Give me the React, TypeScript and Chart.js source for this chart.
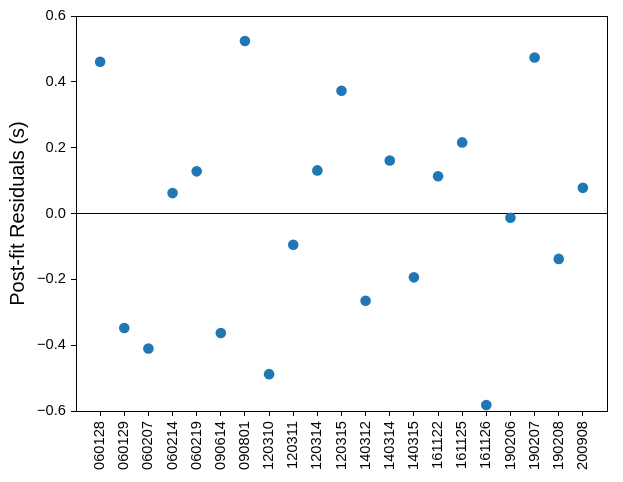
import React, { useEffect, useRef } from "react";
import { Chart, registerables } from "chart.js";

Chart.register(...registerables);

const categories = [
  "060128", "060129", "060207", "060214", "060219", "090614", "090801",
  "120310", "120311", "120314", "120315", "140312", "140314", "140315",
  "161122", "161125", "161126", "190206", "190207", "190208", "200908",
];

const residuals = [
  0.461, -0.348, -0.41, 0.062, 0.128, -0.363, 0.524,
  -0.488, -0.095, 0.131, 0.373, -0.265, 0.161, -0.194,
  0.113, 0.216, -0.582, -0.013, 0.474, -0.138, 0.078,
];

const yTicks = [-0.6, -0.4, -0.2, 0.0, 0.2, 0.4, 0.6];

const FONT = "'Liberation Sans', Arial, Helvetica, sans-serif";

const framePlugin = {
  id: "frame",
  afterDraw(chart: any) {
    const { ctx, chartArea } = chart;
    ctx.save();
    ctx.strokeStyle = "#000";
    ctx.lineWidth = 1;
    ctx.strokeRect(
      Math.round(chartArea.left) + 0.5,
      Math.round(chartArea.top) + 0.5,
      Math.round(chartArea.right - chartArea.left),
      Math.round(chartArea.bottom - chartArea.top)
    );
    ctx.restore();
  },
};

export default function App() {
  const ref = useRef<HTMLCanvasElement | null>(null);

  useEffect(() => {
    document.body.style.margin = "0";
    if (!ref.current) return;
    const chart = new Chart(ref.current, {
      type: "scatter",
      data: {
        datasets: [
          {
            data: residuals.map((v, i) => ({ x: i, y: v })),
            backgroundColor: "#1f77b4",
            borderColor: "#1f77b4",
            pointRadius: 5.3,
            pointHoverRadius: 5.3,
            borderWidth: 0,
          },
        ],
      },
      options: {
        animation: false,
        responsive: false,
        maintainAspectRatio: false,
        events: [],
        layout: { padding: { top: 16, right: 16, left: 0, bottom: 0 } },
        plugins: { legend: { display: false }, tooltip: { enabled: false } },
        scales: {
          x: {
            type: "linear",
            min: -1,
            max: 21,
            afterBuildTicks: (scale: any) => {
              scale.ticks = categories.map((_, i) => ({ value: i }));
            },
            afterFit: (scale: any) => {
              scale.height = 71;
            },
            ticks: {
              autoSkip: false,
              minRotation: 90,
              maxRotation: 90,
              padding: 5,
              color: "#000",
              font: { family: FONT, size: 14.7 },
              callback: (v: any) => categories[v as number] ?? "",
            },
            grid: {
              drawOnChartArea: false,
              drawTicks: true,
              tickLength: 5,
              tickColor: "#000",
              color: "#000",
            },
            border: { display: true, color: "#000", width: 1 },
          },
          y: {
            type: "linear",
            min: -0.6,
            max: 0.6,
            afterBuildTicks: (scale: any) => {
              scale.ticks = yTicks.map((v) => ({ value: v }));
            },
            afterFit: (scale: any) => {
              scale.width = 76;
            },
            ticks: {
              padding: 5,
              color: "#000",
              font: { family: FONT, size: 14.7 },
              callback: (v: any) => {
                const n = Number(v);
                const s = Math.abs(n).toFixed(1);
                return n < -1e-9 ? "\u2212" + s : s;
              },
            },
            grid: {
              drawOnChartArea: true,
              drawTicks: true,
              tickLength: 5,
              tickColor: "#000",
              lineWidth: 1,
              color: (ctx: any) =>
                ctx.tick && Math.abs(ctx.tick.value) < 1e-9 ? "#000" : "rgba(0,0,0,0)",
            },
            border: { display: true, color: "#000", width: 1 },
            title: {
              display: true,
              text: "Post-fit Residuals (s)",
              color: "#000",
              font: { family: FONT, size: 20 },
              padding: { top: 6, bottom: 0 },
            },
          },
        },
      },
      plugins: [framePlugin],
    });
    return () => chart.destroy();
  }, []);

  return (
    <div style={{ position: "absolute", left: 0, top: 0, width: 623, height: 482 }}>
      <canvas ref={ref} width={623} height={482} style={{ width: 623, height: 482 }} />
    </div>
  );
}
